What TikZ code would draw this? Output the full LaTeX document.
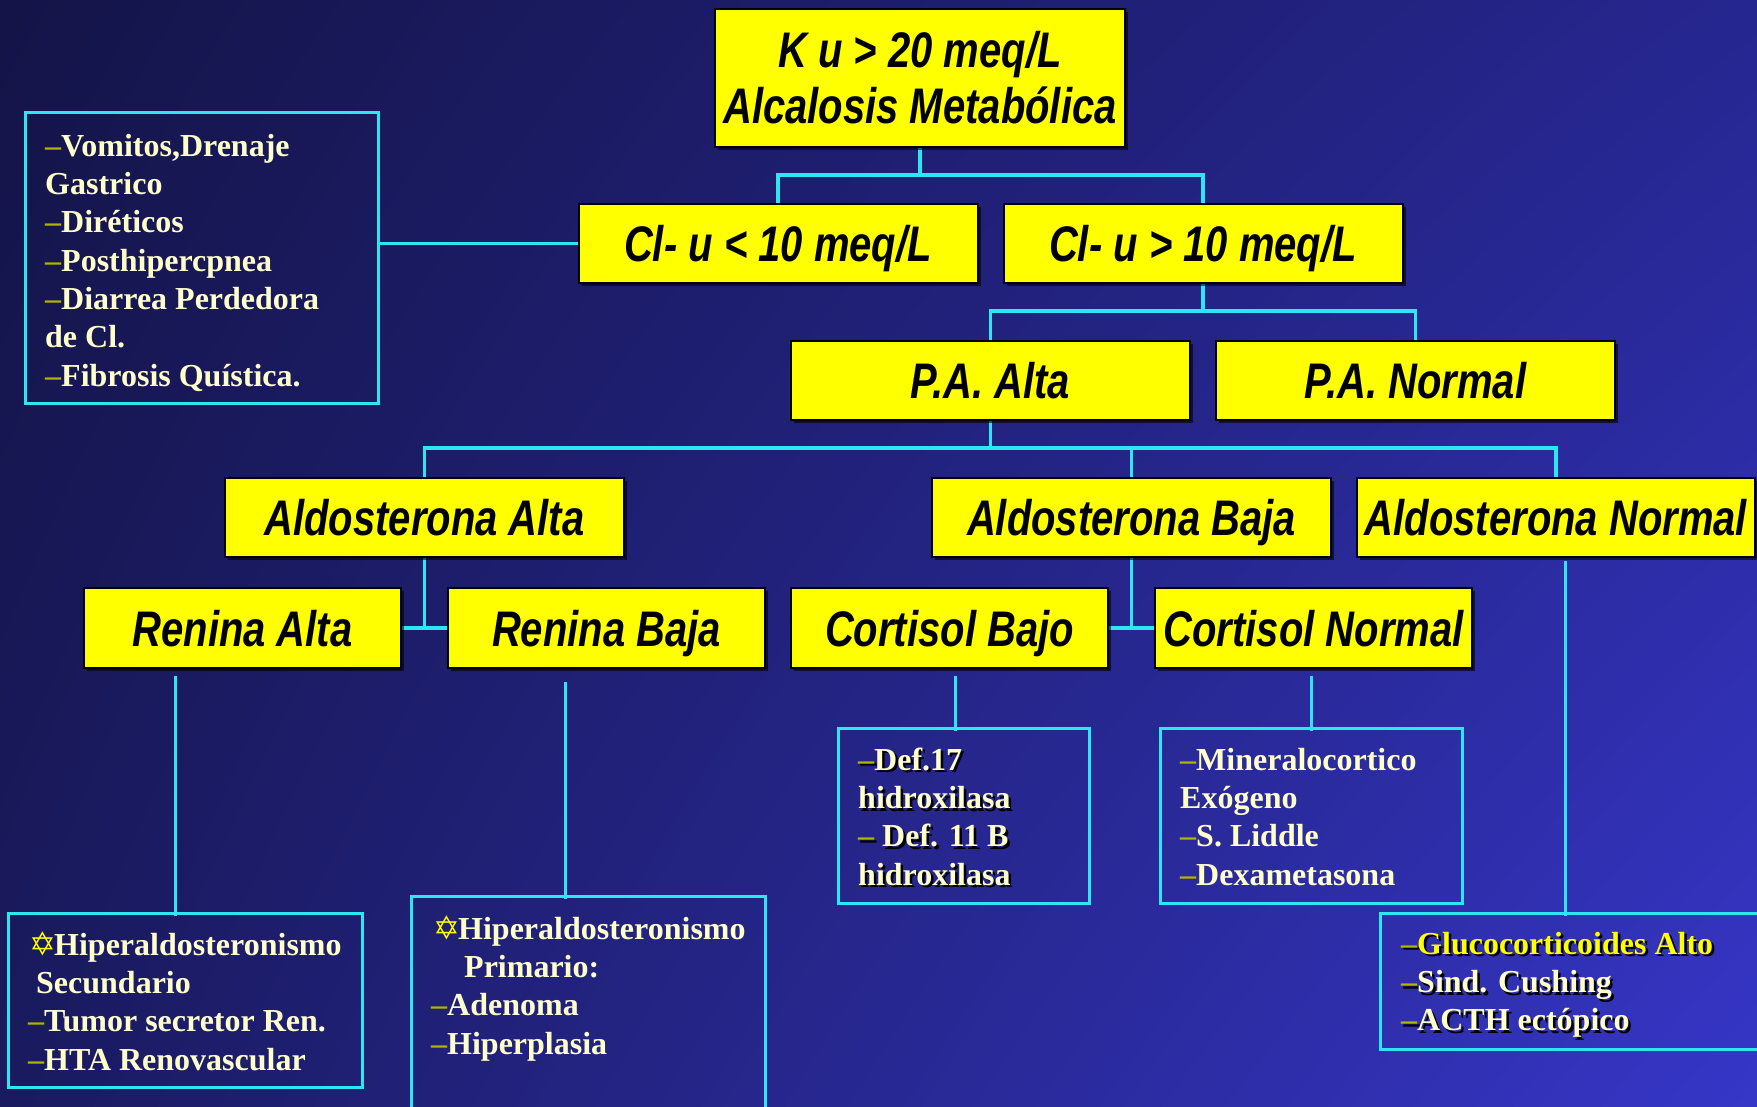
\documentclass[tikz,border=0pt]{standalone}
\usepackage{fontspec}
\setmainfont{Liberation Serif}
\newfontfamily\yfont[FakeStretch=0.8]{Liberation Sans}
\newfontfamily\symfnt{DejaVu Sans}
\usetikzlibrary{shadows,shadings}
\definecolor{cy}{HTML}{2EE6F2}
\definecolor{cream}{HTML}{FFFFCC}
\definecolor{dsh}{HTML}{B4B400}
\definecolor{ylw}{HTML}{FFFF00}
\definecolor{bgA}{HTML}{141448}
\definecolor{bgB}{HTML}{262690}
\definecolor{bgC}{HTML}{1A1A60}
\definecolor{bgD}{HTML}{3636C8}
\pgfdeclarelayer{bgl}
\pgfdeclarelayer{connl}
\pgfsetlayers{bgl,connl,main}
\newcommand{\dd}{{\color{dsh}–}}
\newcommand{\st}{\makebox[25pt][l]{\color{ylw}\symfnt\fontsize{32}{32}\selectfont ✡}}
\begin{document}
\begin{tikzpicture}[x=1pt,y=-1pt,
  ybox/.style={draw=black, line width=2pt, fill=ylw, inner sep=0pt,
    minimum width=399pt, minimum height=79pt, text=black,
    font=\yfont\bfseries\itshape\fontsize{50}{56}\selectfont,
    drop shadow={shadow xshift=3pt, shadow yshift=-3pt, fill=black, opacity=0.6}},
  yone/.style={ybox, text height=36pt, text depth=0pt},
  rbox/.style={yone, minimum width=317pt, minimum height=80pt},
  wbox/.style={draw=cy, line width=3pt, inner sep=0pt},
  wtext/.style={anchor=north west, inner sep=0pt, align=left, text=cream,
    font=\bfseries\fontsize{32}{38.3}\selectfont},
  shtext/.style={wtext, text=black,
    execute at begin node={\colorlet{dsh}{black}\colorlet{ylw}{black}}},
  conn/.style={draw=cy, line width=3.5pt},
  lead/.style={draw=cy, line width=3pt}]
\useasboundingbox (0,0) rectangle (1757,1107);
\begin{pgfonlayer}{bgl}
\shade[upper left=bgA, upper right=bgB, lower left=bgC, lower right=bgD] (0,0) rectangle (1757,1107);
\end{pgfonlayer}

% yellow boxes
\node[ybox, minimum width=410pt, minimum height=138pt, align=center] (top) at (920,78) {K u > 20 meq/L\\Alcalosis Metabólica};
\node[yone] (cl1) at (778,243.5) {Cl- u < 10 meq/L};
\node[yone] (cl2) at (1203,243.5) {Cl- u > 10 meq/L};
\node[yone] (pa1) at (990.5,380.5) {P.A. Alta};
\node[yone] (pa2) at (1415.5,380.5) {P.A. Normal};
\node[yone] (al1) at (424.5,517.5) {Aldosterona Alta};
\node[yone] (al2) at (1131.5,517.5) {Aldosterona Baja};
\node[yone, minimum width=398pt] (al3) at (1556,517.5) {Aldosterona Normal};
\node[rbox] (re1) at (242.5,628) {Renina Alta};
\node[rbox] (re2) at (606.5,628) {Renina Baja};
\node[rbox] (co1) at (949.5,628) {Cortisol Bajo};
\node[rbox] (co2) at (1313.5,628) {Cortisol Normal};

% outlined boxes
\node[wbox, minimum width=353pt, minimum height=290pt] (bx1) at (201.5,258) {};
\node[wbox, minimum width=354pt, minimum height=174pt] (bx2) at (185,1000) {};
\node[wbox, minimum width=354pt, minimum height=220pt] (bx3) at (588,1006) {};
\node[wbox, minimum width=251pt, minimum height=175pt] (bx4) at (963.5,815.5) {};
\node[wbox, minimum width=302pt, minimum height=175pt] (bx5) at (1311,815.5) {};
\node[wbox, minimum width=390pt, minimum height=136pt] (bx6) at (1575,981) {};

% texts
\node[wtext] (t1) at (45,130) {\rule{0pt}{26pt}\dd Vomitos,Drenaje\\Gastrico\\\dd Diréticos\\\dd Posthipercpnea\\\dd Diarrea Perdedora\\de Cl.\\\dd Fibrosis Quística.};
\node[wtext] (t2) at (28,929) {\rule{0pt}{26pt}\hspace{1pt}\st Hiperaldosteronismo\\\hspace{8pt}Secundario\\\dd Tumor secretor Ren.\\\dd HTA Renovascular};
\node[wtext] (t3) at (431,913) {\rule{0pt}{26pt}\hspace{2pt}\st Hiperaldosteronismo\\\hspace{33pt}Primario:\\\dd Adenoma\\\dd Hiperplasia};
\node[shtext] (t4s) at (860.5,746.5) {\rule{0pt}{26pt}\dd Def.17\\hidroxilasa\\\dd\ Def. 11 B\\hidroxilasa};
\node[wtext] (t4) at (858,744) {\rule{0pt}{26pt}\dd Def.17\\hidroxilasa\\\dd\ Def. 11 B\\hidroxilasa};
\node[wtext] (t5) at (1180,744) {\rule{0pt}{26pt}\dd Mineralocortico\\Exógeno\\\dd S. Liddle\\\dd Dexametasona};
\node[shtext] (t6s) at (1403.5,930.5) {\rule{0pt}{26pt}\dd{\color{ylw}Glucocorticoides Alto}\\\dd Sind. Cushing\\\dd ACTH ectópico};
\node[wtext] (t6) at (1401,928) {\rule{0pt}{26pt}\dd{\color{ylw}Glucocorticoides Alto}\\\dd Sind. Cushing\\\dd ACTH ectópico};

% connectors
\begin{pgfonlayer}{connl}
\coordinate (j1) at (920,175);
\coordinate (j2) at (1203,311);
\coordinate (j3) at (990.5,448);
\draw[conn] (top.south) -- (j1);
\draw[conn] (cl1.north) |- (j1);
\draw[conn] (cl2.north) |- (j1);
\draw[conn] (cl1.west) -- (cl1.west -| bx1.east);
\draw[conn] (cl2.south) -- (j2);
\draw[conn] (pa1.north) |- (j2);
\draw[conn] (pa2.north) |- (j2);
\draw[conn] (pa1.south) -- (j3);
\draw[conn] (al1.north) |- (j3);
\draw[conn] (al2.north) |- (j3);
\draw[conn] (al3.north) |- (j3);
\draw[conn] (al1.south) -- (al1.south |- re1.east);
\draw[conn] (re1.east) -- (re2.west);
\draw[conn] (al2.south) -- (al2.south |- co1.east);
\draw[conn] (co1.east) -- (co2.west);
\coordinate (s1) at (175,676);
\coordinate (s2) at (565,682);
\coordinate (s3) at (955,676);
\coordinate (s4) at (1311.5,676);
\coordinate (s5) at (1565,561);
\draw[lead, shorten >=-4pt] (s1) -- (s1 |- bx2.north);
\draw[lead, shorten >=-4pt] (s2) -- (s2 |- bx3.north);
\draw[lead, shorten >=-4pt] (s3) -- (s3 |- bx4.north);
\draw[lead, shorten >=-4pt] (s4) -- (s4 |- bx5.north);
\draw[lead, shorten >=-4pt] (s5) -- (s5 |- bx6.north);
\end{pgfonlayer}
\end{tikzpicture}
\end{document}
